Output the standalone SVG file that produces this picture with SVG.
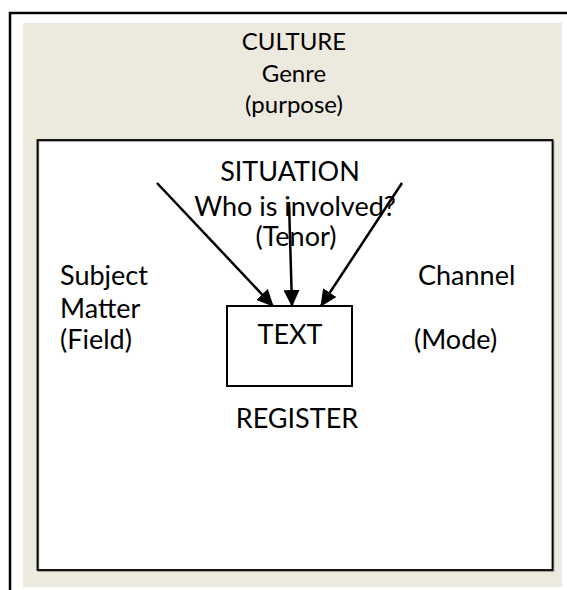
<svg xmlns="http://www.w3.org/2000/svg" width="567" height="590" viewBox="0 0 567 590">
<style>
text{font-family:Lato,"Open Sans","Liberation Sans",sans-serif;fill:#000;}
.c{font-size:24px;text-anchor:middle}
.m{font-size:27px}
.mc{font-size:27px;text-anchor:middle}
.conn line{stroke:#000;stroke-width:2.5;marker-end:url(#ah)}
</style>
<defs>
<marker id="ah" markerWidth="17" markerHeight="16" refX="16" refY="8" orient="auto" markerUnits="userSpaceOnUse">
<path d="M0,0 L17,8 L0,16 z" fill="#000"/>
</marker>
</defs>
<rect width="567" height="590" fill="#fff"/>
<g id="frame">
<path d="M10,590 V13 H567" fill="none" stroke="#000" stroke-width="2.5"/>
<rect x="23" y="23" width="539" height="564" fill="#ECE9DF"/>
</g>
<g id="culture">
<text class="c" x="294" y="50">CULTURE</text>
<text class="c" x="294" y="82">Genre</text>
<text class="c" x="294" y="113">(purpose)</text>
</g>
<g id="situation">
<rect x="38.5" y="141" width="515" height="430" fill="#fff" stroke="#8a8a8a" stroke-width="1.5"/>
<rect x="37.5" y="140" width="515" height="430" fill="none" stroke="#000" stroke-width="1.8"/>
<text class="mc" x="290" y="181">SITUATION</text>
<text class="mc" x="295" y="216">Who is involved?</text>
<text class="mc" x="296" y="246">(Tenor)</text>
</g>
<g id="field">
<text class="m" x="60" y="285">Subject</text>
<text class="m" x="60" y="318">Matter</text>
<text class="m" x="60" y="349">(Field)</text>
</g>
<g id="mode">
<text class="m" x="418" y="285">Channel</text>
<text class="m" x="414" y="349">(Mode)</text>
</g>
<g id="text-box">
<rect x="227" y="306" width="125" height="80" fill="#fff" stroke="#000" stroke-width="2"/>
<text class="mc" x="290" y="344">TEXT</text>
</g>
<g id="register">
<text class="mc" x="297" y="428">REGISTER</text>
</g>
<g class="conn" id="connectors">
<line x1="157" y1="183" x2="273" y2="306"/>
<line x1="289" y1="202" x2="292" y2="306"/>
<line x1="402" y1="183" x2="321" y2="306"/>
</g>
</svg>
